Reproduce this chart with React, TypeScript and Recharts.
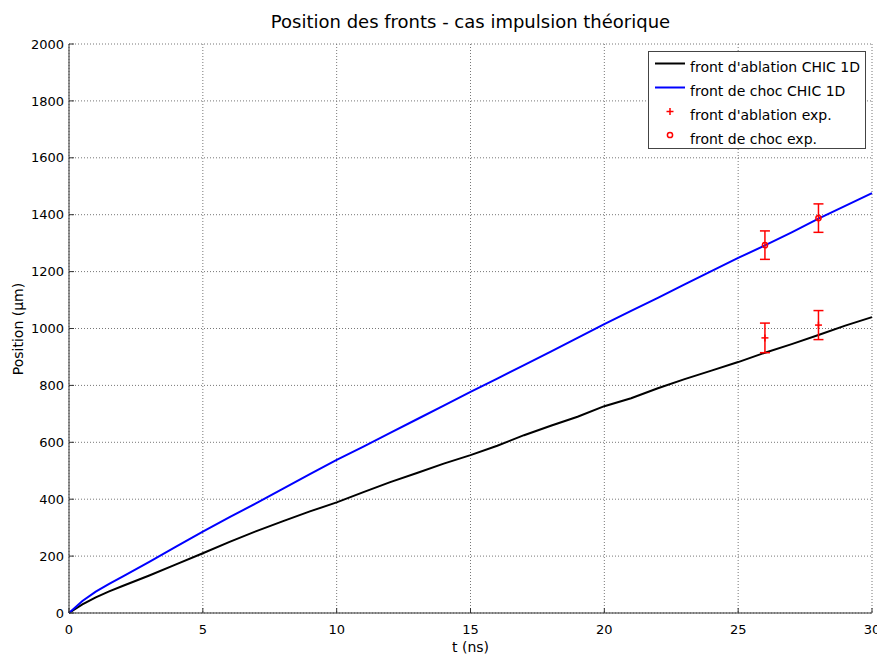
import {
  CartesianGrid,
  ComposedChart,
  ErrorBar,
  Legend,
  Line,
  Scatter,
  XAxis,
  YAxis,
} from "recharts";

const FONT = "'DejaVu Sans', sans-serif";

// CHIC 1D simulation
const tSim = [
  0, 0.5, 1, 1.5, 2, 3, 4, 5, 6, 7, 8, 9, 10, 11, 12, 13, 14, 15, 16, 17, 18,
  19, 20, 21, 22, 23, 24, 25, 26, 27, 28, 29, 30,
];
const ablationSim = [
  0, 30, 55, 76, 95, 132, 171, 210, 250, 288, 323, 357, 389, 425, 460, 492,
  525, 555, 588, 625, 658, 690, 727, 755, 790, 822, 852, 882, 915, 945, 977,
  1010, 1040,
];
const chocSim = [
  0, 42, 75, 102, 128, 180, 233, 286, 337, 386, 437, 488, 538, 585, 633, 681,
  729, 777, 824, 871, 919, 967, 1015, 1062, 1108, 1155, 1202, 1248, 1292,
  1338, 1386, 1431, 1476,
];

// experimental points with their error bars
const tExp = [26, 28];
const ablationExp = [967, 1012];
const ablationErr = [52, 51];
const chocExp = [1293, 1388];
const chocErr = [50, 50];

const xTicks = [0, 5, 10, 15, 20, 25, 30];
const yTicks = [0, 200, 400, 600, 800, 1000, 1200, 1400, 1600, 1800, 2000];

const simData = tSim.map((t, i) => ({
  t,
  ablation: ablationSim[i],
  choc: chocSim[i],
}));
const ablationData = tExp.map((t, i) => ({
  t,
  ablation: ablationExp[i],
  err: ablationErr[i],
}));
const chocData = tExp.map((t, i) => ({
  t,
  choc: chocExp[i],
  err: chocErr[i],
}));

const RED = "#ff0000";

function PlusMarker({ cx, cy }: any) {
  return (
    <g stroke={RED} strokeWidth={1.5}>
      <line x1={cx - 3.5} y1={cy} x2={cx + 3.5} y2={cy} />
      <line x1={cx} y1={cy - 3.5} x2={cx} y2={cy + 3.5} />
    </g>
  );
}

function CircleMarker({ cx, cy }: any) {
  return <circle cx={cx} cy={cy} r={2.6} fill="none" stroke={RED} strokeWidth={1.5} />;
}

function LegendBox() {
  const text = { fontFamily: FONT, fontSize: 14, fill: "#000" };
  return (
    <svg width={218} height={98} style={{ display: "block" }}>
      <rect x={0.5} y={0.5} width={217} height={97} fill="#fff" stroke="#444" />
      <line x1={7} y1={12.5} x2={37} y2={12.5} stroke="#000" strokeWidth={2} />
      <text x={42} y={20.5} {...text}>front d'ablation CHIC 1D</text>
      <line x1={7} y1={36.5} x2={37} y2={36.5} stroke="#0000ff" strokeWidth={2} />
      <text x={42} y={44.5} {...text}>front de choc CHIC 1D</text>
      <PlusMarker cx={22} cy={60.5} />
      <text x={42} y={68.5} {...text}>front d'ablation exp.</text>
      <CircleMarker cx={22} cy={84} />
      <text x={42} y={92.5} {...text}>front de choc exp.</text>
    </svg>
  );
}

function YLabel() {
  return (
    <text
      x={23}
      y={329}
      transform="rotate(-90 23 329)"
      textAnchor="middle"
      fontFamily={FONT}
      fontSize={14}
      fill="#000"
    >
      Position (µm)
    </text>
  );
}

export default function App() {
  const tick = { fill: "#000", fontSize: 13, fontFamily: FONT };
  return (
    <div style={{ position: "absolute", left: 0, top: 0, width: 877, height: 657, background: "#fff" }}>
      <svg width={877} height={40} style={{ position: "absolute", left: 0, top: 0 }}>
        <text x={470.5} y={28} textAnchor="middle" fontFamily={FONT} fontSize={18} fill="#000">
          Position des fronts - cas impulsion théorique
        </text>
      </svg>
      <ComposedChart
        width={877}
        height={657}
        data={simData}
        margin={{ top: 44, right: 5, bottom: 0, left: 0 }}
        style={{ position: "absolute", left: 0, top: 0, fontFamily: FONT }}
      >
        <CartesianGrid stroke="#777" strokeDasharray="1 2" />
        <XAxis
          dataKey="t"
          type="number"
          domain={[0, 30]}
          ticks={xTicks}
          interval={0}
          height={44}
          tick={tick}
          tickSize={-5}
          tickMargin={17}
          stroke="#333"
          label={{ value: "t (ns)", position: "insideBottom", offset: 5, fontSize: 14, fill: "#000", fontFamily: FONT }}
        />
        <XAxis
          xAxisId="top"
          orientation="top"
          type="number"
          domain={[0, 30]}
          ticks={xTicks}
          interval={0}
          height={0}
          tick={false}
          tickSize={-5}
          stroke="#888"
        />
        <YAxis
          type="number"
          domain={[0, 2000]}
          ticks={yTicks}
          interval={0}
          width={69}
          tick={tick}
          tickSize={-5}
          tickMargin={10}
          stroke="#333"
          label={<YLabel />}
        />
        <YAxis
          yAxisId="right"
          orientation="right"
          type="number"
          domain={[0, 2000]}
          ticks={yTicks}
          interval={0}
          width={0}
          tick={false}
          tickSize={-5}
          stroke="#888"
        />
        <Line
          type="linear"
          dataKey="ablation"
          stroke="#000"
          strokeWidth={2}
          dot={false}
          isAnimationActive={false}
        />
        <Line
          type="linear"
          dataKey="choc"
          stroke="#0000ff"
          strokeWidth={2}
          dot={false}
          isAnimationActive={false}
        />
        <Scatter data={ablationData} dataKey="ablation" shape={<PlusMarker />} isAnimationActive={false}>
          <ErrorBar dataKey="err" direction="y" width={5} stroke={RED} strokeWidth={1.5} />
        </Scatter>
        <Scatter data={chocData} dataKey="choc" shape={<CircleMarker />} isAnimationActive={false}>
          <ErrorBar dataKey="err" direction="y" width={5} stroke={RED} strokeWidth={1.5} />
        </Scatter>
        <Legend
          layout="horizontal"
          verticalAlign="middle"
          align="center"
          content={() => <LegendBox />}
          wrapperStyle={{ left: 648, top: 51, width: 218, height: 98 }}
        />
      </ComposedChart>
    </div>
  );
}
